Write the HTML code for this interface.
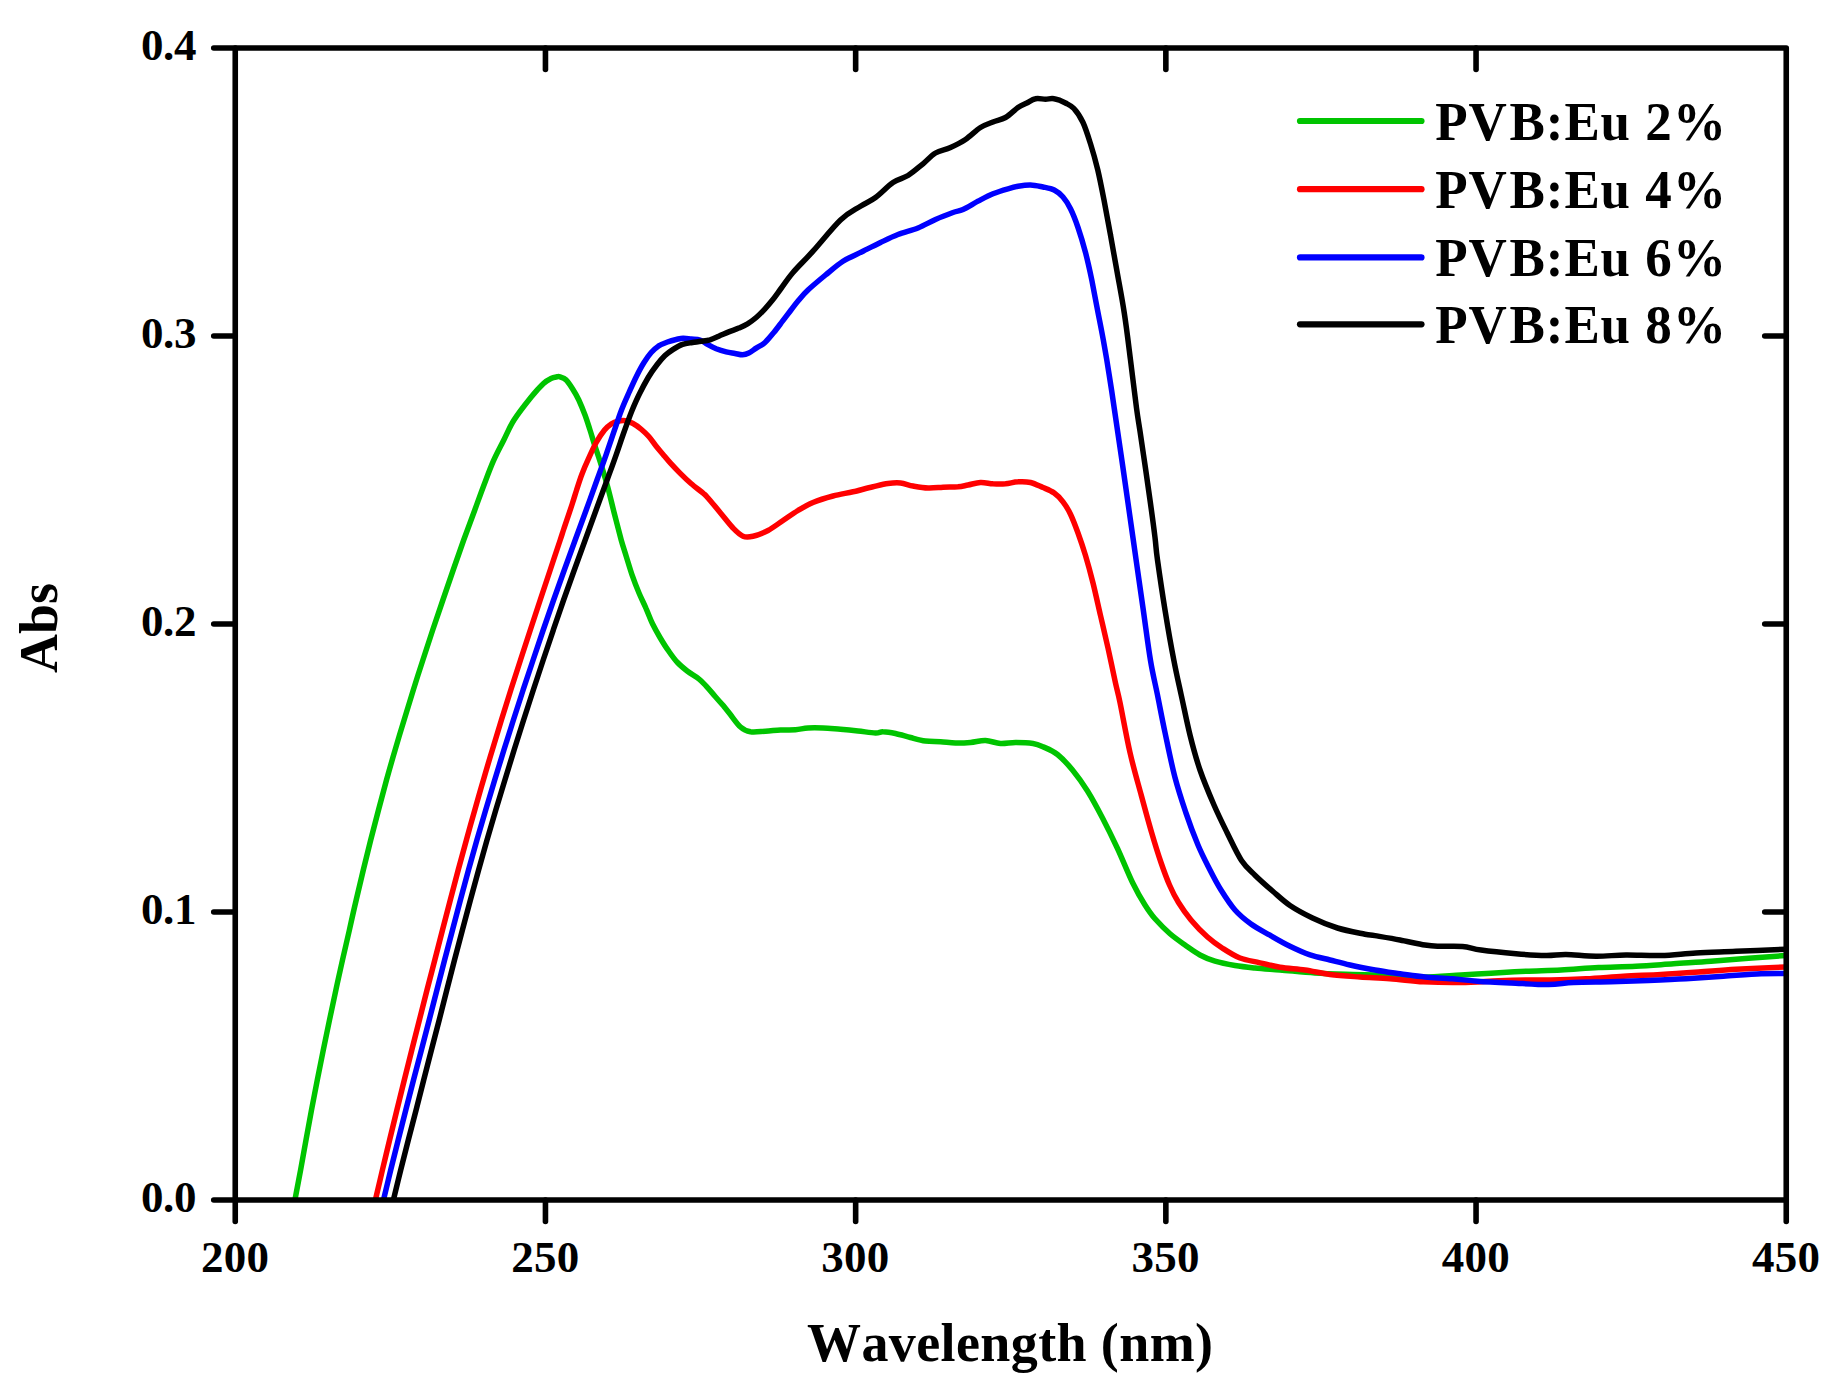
<!DOCTYPE html>
<html lang="en"><head><meta charset="utf-8"><title>Abs vs Wavelength</title>
<style>
html,body{margin:0;padding:0;background:#fff;}
body{width:1848px;height:1392px;overflow:hidden;}
svg{display:block;}
text{font-family:"Liberation Serif","Times New Roman",serif;font-weight:bold;fill:#000;font-kerning:none;}
</style></head><body>
<svg width="1848" height="1392" viewBox="0 0 1848 1392">
<rect width="1848" height="1392" fill="#fff"/>
<defs><clipPath id="plot"><rect x="235.25" y="48.00" width="1551.00" height="1152.00"/></clipPath></defs>

<g clip-path="url(#plot)" fill="none" stroke-width="5.5" stroke-linejoin="round" stroke-linecap="butt">
<path d="M294.9 1200.0C295.9 1195.0 298.7 1180.0 300.6 1170.0C302.4 1160.0 304.2 1150.0 306.0 1140.0C307.9 1130.0 309.6 1120.0 311.5 1110.0C313.4 1100.0 315.4 1090.0 317.3 1080.0C319.3 1070.0 321.3 1060.0 323.3 1050.0C325.4 1040.0 327.4 1030.0 329.5 1020.0C331.6 1010.0 333.7 1000.0 335.9 990.0C338.0 980.0 340.3 970.0 342.5 960.0C344.8 950.0 347.1 940.0 349.4 930.0C351.6 920.0 353.8 910.0 356.2 900.0C358.5 890.0 360.9 880.0 363.3 870.0C365.7 860.0 368.2 850.0 370.7 840.0C373.3 830.0 375.9 820.0 378.5 810.0C381.1 800.0 383.8 790.0 386.5 780.0C389.3 770.0 392.1 760.0 395.1 750.0C398.0 740.0 401.0 730.0 404.1 720.0C407.1 710.0 410.2 700.0 413.3 690.0C416.4 680.0 419.6 670.0 422.9 660.0C426.1 650.0 429.4 640.0 432.7 630.0C436.1 620.0 439.5 610.0 442.9 600.0C446.3 590.0 449.7 580.0 453.2 570.0C456.6 560.0 460.1 550.0 463.7 540.0C467.4 530.0 471.5 519.0 474.8 510.0C478.1 501.0 480.4 494.4 483.5 486.2C486.6 478.1 489.9 469.0 493.3 461.2C496.7 453.5 500.4 446.9 503.8 440.0C507.3 433.1 509.5 427.1 514.0 420.0C518.5 412.9 526.1 403.3 531.0 397.2C535.9 391.2 540.2 386.6 543.5 383.5C546.8 380.4 548.7 379.6 551.0 378.5C553.3 377.4 555.8 377.1 557.2 376.8C558.8 376.5 558.5 376.4 560.0 376.9C561.5 377.4 564.2 378.0 566.2 380.0C568.3 382.0 570.4 385.4 572.5 388.8C574.6 392.1 576.7 395.6 578.8 400.0C580.8 404.4 583.1 410.0 585.0 415.0C586.9 420.0 588.3 424.8 590.0 430.0C591.7 435.2 593.3 441.0 595.0 446.2C596.7 451.5 597.9 454.6 600.0 461.2C602.1 467.9 605.1 477.5 607.5 486.2C609.9 495.0 612.1 504.8 614.4 513.8C616.7 522.7 619.3 532.9 621.2 540.0C623.2 547.1 624.4 550.2 626.2 556.2C628.1 562.3 630.4 570.2 632.5 576.2C634.6 582.3 636.5 587.1 638.8 592.5C641.0 597.9 644.0 603.5 646.2 608.8C648.5 614.0 650.2 619.0 652.5 623.8C654.8 628.5 657.3 632.9 660.0 637.5C662.7 642.1 665.8 647.1 668.8 651.2C671.7 655.4 674.4 659.2 677.5 662.5C680.6 665.8 684.0 668.5 687.5 671.2C691.0 674.0 695.6 676.2 698.8 678.8C701.9 681.2 703.5 683.3 706.2 686.2C709.0 689.2 712.1 692.9 715.0 696.2C717.9 699.6 721.2 703.3 723.8 706.2C726.2 709.2 727.2 710.5 730.0 714.0C732.8 717.5 737.1 724.0 740.5 727.0C743.9 730.0 746.3 731.0 750.5 731.8C754.7 732.5 760.5 731.5 765.5 731.2C770.5 731.0 775.5 730.2 780.5 730.0C785.5 729.8 790.9 730.1 795.5 729.8C800.1 729.4 803.4 728.3 808.0 728.0C812.6 727.7 817.6 727.8 823.0 728.0C828.4 728.2 834.7 728.8 840.5 729.2C846.3 729.8 852.2 730.4 858.0 731.0C863.8 731.6 871.3 732.9 875.5 733.0C879.7 733.1 879.7 731.7 883.0 731.8C886.3 731.8 890.9 732.5 895.5 733.5C900.1 734.5 905.5 736.2 910.5 737.5C915.5 738.8 920.5 740.3 925.5 741.0C930.5 741.7 935.5 741.4 940.5 741.8C945.5 742.1 950.5 742.9 955.5 743.0C960.5 743.1 965.5 742.9 970.5 742.5C975.5 742.1 980.5 740.3 985.5 740.5C990.5 740.7 995.5 743.2 1000.5 743.5C1005.5 743.8 1010.1 742.5 1015.5 742.5C1020.9 742.5 1028.4 742.8 1033.0 743.5C1037.6 744.2 1038.9 744.9 1043.0 746.8C1047.1 748.6 1052.6 750.6 1057.5 754.5C1062.4 758.4 1067.5 763.9 1072.5 770.0C1077.5 776.1 1082.5 783.0 1087.5 791.0C1092.5 799.0 1097.5 808.4 1102.5 818.0C1107.5 827.6 1112.5 837.8 1117.5 848.5C1122.5 859.2 1127.9 873.1 1132.5 882.5C1137.1 891.9 1141.2 899.0 1145.0 905.0C1148.8 911.0 1150.8 914.0 1155.0 918.8C1159.2 923.5 1165.0 929.4 1170.0 933.8C1175.0 938.1 1180.0 941.5 1185.0 945.0C1190.0 948.5 1195.0 952.3 1200.0 955.0C1205.0 957.7 1209.2 959.5 1215.0 961.2C1220.8 963.0 1228.3 964.4 1235.0 965.5C1241.7 966.6 1247.5 967.2 1255.0 968.0C1262.5 968.8 1270.0 969.2 1280.0 970.0C1290.0 970.8 1302.9 972.2 1315.0 973.0C1327.1 973.8 1340.0 974.1 1352.5 974.5C1365.0 974.9 1378.2 975.1 1390.0 975.5C1401.8 975.9 1411.7 977.1 1423.5 977.0C1435.3 976.9 1449.8 975.6 1461.0 975.0C1472.2 974.4 1480.2 973.9 1491.0 973.2C1501.8 972.6 1514.3 971.8 1526.0 971.2C1537.7 970.7 1548.9 970.6 1561.0 970.0C1573.1 969.4 1586.0 968.1 1598.5 967.5C1611.0 966.9 1623.5 966.9 1636.0 966.2C1648.5 965.6 1661.0 964.6 1673.5 963.8C1686.0 962.9 1698.5 962.2 1711.0 961.2C1723.5 960.3 1736.0 959.2 1748.5 958.2C1761.0 957.3 1779.8 956.0 1786.0 955.5" stroke="#00c400"/>
<path d="M375.4 1200.0C376.6 1195.0 380.1 1180.0 382.4 1170.0C384.8 1160.0 387.2 1150.0 389.6 1140.0C392.0 1130.0 394.4 1120.0 396.9 1110.0C399.3 1100.0 401.8 1090.0 404.3 1080.0C406.8 1070.0 409.3 1060.0 411.8 1050.0C414.4 1040.0 416.9 1030.0 419.4 1020.0C422.0 1010.0 424.5 1000.0 427.0 990.0C429.6 980.0 432.2 970.0 434.8 960.0C437.3 950.0 440.0 940.0 442.5 930.0C445.1 920.0 447.7 910.0 450.3 900.0C452.9 890.0 455.6 880.0 458.2 870.0C460.9 860.0 463.6 850.0 466.4 840.0C469.1 830.0 471.9 820.0 474.8 810.0C477.6 800.0 480.4 790.0 483.4 780.0C486.3 770.0 489.2 760.0 492.3 750.0C495.3 740.0 498.3 730.0 501.4 720.0C504.5 710.0 507.7 700.0 510.8 690.0C514.0 680.0 517.2 670.0 520.5 660.0C523.7 650.0 527.0 640.0 530.3 630.0C533.6 620.0 536.9 610.0 540.2 600.0C543.5 590.0 546.9 580.0 550.2 570.0C553.5 560.0 557.9 546.8 560.2 540.0C562.5 533.2 561.8 535.0 563.8 529.0C565.8 523.0 570.1 510.5 572.2 504.0C574.3 497.5 575.0 495.0 576.6 490.0C578.2 485.0 580.0 479.2 582.0 474.0C583.9 468.8 586.0 464.0 588.4 458.8C590.8 453.5 593.6 447.3 596.2 442.5C598.9 437.7 602.0 433.1 604.5 430.0C607.0 426.9 609.0 425.5 611.2 424.0C613.5 422.5 615.6 421.7 618.0 421.2C620.4 420.7 623.0 420.4 625.5 420.8C628.0 421.2 630.3 422.1 633.0 423.5C635.7 424.9 638.9 427.3 641.5 429.5C644.1 431.7 646.4 433.8 648.8 436.5C651.2 439.2 653.6 443.0 656.0 446.0C658.4 449.0 660.9 451.8 663.3 454.7C665.7 457.6 667.7 460.1 670.5 463.2C673.3 466.3 676.6 469.7 680.0 473.1C683.4 476.5 687.1 480.1 691.0 483.5C694.9 486.9 700.7 491.1 703.5 493.5C706.3 495.9 705.2 494.8 708.0 498.0C710.8 501.2 716.3 508.0 720.5 513.0C724.7 518.0 729.2 524.1 733.0 528.0C736.8 531.9 739.7 534.9 743.0 536.2C746.3 537.6 748.8 537.2 753.0 536.2C757.2 535.3 763.0 533.1 768.0 530.5C773.0 527.9 778.0 523.8 783.0 520.5C788.0 517.2 793.0 513.5 798.0 510.5C803.0 507.5 807.2 504.9 813.0 502.5C818.8 500.1 826.3 497.8 833.0 496.0C839.7 494.2 846.3 493.3 853.0 491.8C859.7 490.2 867.2 488.1 873.0 486.8C878.8 485.4 883.4 484.1 888.0 483.5C892.6 482.9 896.3 482.6 900.5 483.0C904.7 483.4 908.4 485.2 913.0 486.0C917.6 486.8 923.0 487.8 928.0 488.0C933.0 488.2 938.0 487.5 943.0 487.2C948.0 487.0 953.8 487.1 958.0 486.8C962.2 486.4 964.2 485.7 968.0 485.0C971.8 484.3 976.3 482.7 980.5 482.5C984.7 482.3 988.8 483.5 993.0 483.8C997.2 484.0 1001.3 484.1 1005.5 483.8C1009.7 483.4 1013.8 482.0 1018.0 481.8C1022.2 481.5 1026.3 481.5 1030.5 482.5C1034.7 483.5 1039.0 485.8 1043.0 487.5C1047.0 489.2 1050.9 490.6 1054.2 493.0C1057.6 495.4 1060.3 498.2 1063.0 501.8C1065.7 505.3 1068.0 509.0 1070.5 514.2C1073.0 519.5 1075.5 526.1 1078.0 533.0C1080.5 539.9 1083.0 547.2 1085.5 555.5C1088.0 563.8 1090.5 573.0 1093.0 583.0C1095.5 593.0 1098.0 604.7 1100.5 615.5C1103.0 626.3 1105.5 636.8 1108.0 648.0C1110.5 659.2 1113.5 673.9 1115.5 683.0C1117.5 692.1 1117.6 690.9 1120.0 702.5C1122.4 714.1 1126.5 737.1 1130.0 752.5C1133.5 767.9 1137.6 781.7 1141.2 795.0C1144.8 808.3 1148.3 821.2 1151.6 832.5C1154.9 843.8 1158.0 853.8 1161.0 862.5C1164.0 871.2 1166.6 878.3 1169.5 885.0C1172.4 891.7 1174.9 896.7 1178.5 902.5C1182.1 908.3 1186.2 914.2 1191.0 920.0C1195.8 925.8 1202.2 932.3 1207.5 937.0C1212.8 941.7 1217.1 944.7 1222.5 948.2C1227.9 951.7 1233.8 955.6 1240.0 958.0C1246.2 960.4 1253.3 961.2 1260.0 962.8C1266.7 964.3 1272.5 966.0 1280.0 967.2C1287.5 968.5 1296.7 968.8 1305.0 970.0C1313.3 971.2 1320.8 973.3 1330.0 974.5C1339.2 975.7 1350.0 976.3 1360.0 977.0C1370.0 977.7 1379.4 978.0 1390.0 978.8C1400.6 979.5 1411.7 981.1 1423.5 981.8C1435.3 982.4 1448.5 982.7 1461.0 982.5C1473.5 982.3 1487.7 981.2 1498.5 980.8C1509.3 980.3 1517.2 980.1 1526.0 980.0C1534.8 979.9 1541.0 980.2 1551.0 980.0C1561.0 979.8 1573.9 979.4 1586.0 978.8C1598.1 978.1 1611.0 977.0 1623.5 976.2C1636.0 975.5 1648.5 975.2 1661.0 974.5C1673.5 973.8 1686.0 972.9 1698.5 972.0C1711.0 971.1 1721.4 970.1 1736.0 969.2C1750.6 968.4 1777.7 967.4 1786.0 967.0" stroke="#ff0000"/>
<path d="M383.5 1200.0C384.7 1195.0 388.3 1180.0 390.7 1170.0C393.2 1160.0 395.7 1150.0 398.2 1140.0C400.7 1130.0 403.3 1120.0 405.8 1110.0C408.4 1100.0 410.9 1090.0 413.5 1080.0C416.1 1070.0 418.7 1060.0 421.4 1050.0C424.0 1040.0 426.6 1030.0 429.2 1020.0C431.8 1010.0 434.3 1000.0 436.9 990.0C439.4 980.0 442.0 970.0 444.6 960.0C447.2 950.0 449.8 940.0 452.5 930.0C455.1 920.0 457.7 910.0 460.4 900.0C463.1 890.0 465.8 880.0 468.5 870.0C471.3 860.0 474.1 850.0 476.9 840.0C479.8 830.0 482.7 820.0 485.7 810.0C488.7 800.0 491.7 790.0 494.7 780.0C497.8 770.0 500.8 760.0 503.9 750.0C507.0 740.0 510.2 730.0 513.4 720.0C516.6 710.0 519.8 700.0 523.1 690.0C526.4 680.0 529.7 670.0 533.1 660.0C536.4 650.0 539.8 640.0 543.2 630.0C546.6 620.0 550.1 610.0 553.6 600.0C557.1 590.0 560.7 580.0 564.3 570.0C567.9 560.0 571.6 550.0 575.2 540.0C578.9 530.0 582.5 520.0 586.2 510.0C589.8 500.0 593.7 489.4 597.0 480.0C600.4 470.6 603.6 461.9 606.4 453.8C609.3 445.6 611.6 438.5 614.1 431.2C616.6 424.0 619.0 416.5 621.5 410.0C624.0 403.5 626.5 398.1 629.0 392.5C631.5 386.9 634.0 381.2 636.5 376.2C639.0 371.2 641.5 366.5 644.0 362.5C646.5 358.5 648.8 355.2 651.2 352.5C653.6 349.8 655.6 348.0 658.3 346.2C661.0 344.5 664.5 343.1 667.5 342.0C670.5 340.9 673.6 340.1 676.2 339.5C678.9 338.9 680.6 338.3 683.1 338.2C685.6 338.1 688.4 338.7 691.2 339.0C694.1 339.3 697.3 339.1 700.0 340.0C702.7 340.9 704.8 342.9 707.5 344.4C710.2 345.9 713.1 347.5 716.2 348.8C719.4 350.0 723.1 351.1 726.2 351.9C729.4 352.7 732.3 353.0 735.0 353.5C737.7 354.0 740.2 354.8 742.5 354.8C744.8 354.7 746.5 354.2 748.8 353.1C751.0 352.0 753.5 349.9 756.2 348.1C759.0 346.3 762.1 345.1 765.0 342.5C767.9 339.9 770.8 336.0 773.8 332.5C776.7 329.0 779.6 325.0 782.5 321.2C785.4 317.5 788.4 313.4 791.0 310.0C793.6 306.6 795.2 304.3 798.0 301.0C800.8 297.7 803.4 294.3 808.0 290.0C812.6 285.7 819.7 279.8 825.5 275.0C831.3 270.2 836.8 265.2 843.0 261.2C849.2 257.3 856.8 254.4 863.0 251.2C869.2 248.1 874.7 245.3 880.5 242.5C886.3 239.7 891.8 236.9 898.0 234.5C904.2 232.1 911.8 230.5 918.0 228.0C924.2 225.5 929.7 222.1 935.5 219.5C941.3 216.9 948.4 214.2 953.0 212.5C957.6 210.8 958.8 211.4 963.0 209.5C967.2 207.6 973.0 203.9 978.0 201.2C983.0 198.6 988.0 195.8 993.0 193.8C998.0 191.7 1003.8 190.0 1008.0 188.8C1012.2 187.5 1014.2 186.9 1018.0 186.2C1021.8 185.6 1026.3 184.9 1030.5 185.0C1034.7 185.1 1039.0 186.2 1043.0 187.0C1047.0 187.8 1050.9 188.3 1054.2 190.0C1057.6 191.7 1060.3 193.9 1063.0 197.0C1065.7 200.1 1068.0 203.7 1070.5 208.8C1073.0 213.8 1075.5 220.2 1078.0 227.5C1080.5 234.8 1083.2 243.8 1085.5 252.5C1087.8 261.2 1089.7 270.0 1091.8 280.0C1093.8 290.0 1095.9 301.7 1098.0 312.5C1100.1 323.3 1102.4 334.6 1104.2 345.0C1106.1 355.4 1107.6 364.5 1109.2 375.0C1110.9 385.5 1112.0 392.5 1114.2 408.0C1116.5 423.5 1119.9 446.3 1123.0 468.0C1126.1 489.7 1129.7 514.7 1133.0 538.0C1136.3 561.3 1140.1 587.6 1143.0 608.0C1145.9 628.4 1148.1 646.0 1150.5 660.5C1152.9 675.0 1155.1 683.0 1157.5 695.0C1159.9 707.0 1162.1 718.8 1165.0 732.5C1167.9 746.2 1171.5 764.2 1175.0 777.5C1178.5 790.8 1182.0 801.2 1185.8 812.5C1189.6 823.8 1194.0 835.4 1198.0 845.0C1202.0 854.6 1206.2 862.5 1210.0 870.0C1213.8 877.5 1216.8 883.3 1221.0 890.0C1225.2 896.7 1230.0 904.3 1235.0 910.0C1240.0 915.7 1245.2 919.8 1251.0 924.0C1256.8 928.2 1263.5 931.5 1270.0 935.2C1276.5 939.0 1283.3 943.0 1290.0 946.2C1296.7 949.5 1303.3 952.5 1310.0 954.8C1316.7 957.0 1323.3 958.3 1330.0 960.0C1336.7 961.7 1342.5 963.3 1350.0 965.0C1357.5 966.7 1366.7 968.5 1375.0 970.0C1383.3 971.5 1391.7 972.6 1400.0 973.8C1408.3 974.9 1416.2 976.2 1425.0 977.0C1433.8 977.8 1443.8 978.0 1452.5 978.8C1461.2 979.5 1467.8 980.5 1477.5 981.2C1487.2 982.0 1499.2 982.5 1511.0 983.0C1522.8 983.5 1538.1 984.6 1548.5 984.5C1558.9 984.4 1563.1 983.0 1573.5 982.5C1583.9 982.0 1598.5 982.1 1611.0 981.8C1623.5 981.4 1636.0 981.0 1648.5 980.5C1661.0 980.0 1673.5 979.5 1686.0 978.8C1698.5 978.0 1711.0 977.1 1723.5 976.2C1736.0 975.4 1750.6 974.2 1761.0 973.8C1771.4 973.3 1781.8 973.5 1786.0 973.5" stroke="#0000ff"/>
<path d="M393.4 1200.0C394.6 1195.0 398.2 1180.0 400.7 1170.0C403.2 1160.0 405.7 1150.0 408.3 1140.0C410.9 1130.0 413.5 1120.0 416.1 1110.0C418.6 1100.0 421.1 1090.0 423.7 1080.0C426.3 1070.0 428.8 1060.0 431.4 1050.0C434.0 1040.0 436.6 1030.0 439.2 1020.0C441.8 1010.0 444.3 1000.0 446.8 990.0C449.4 980.0 451.9 970.0 454.5 960.0C457.1 950.0 459.7 940.0 462.4 930.0C465.0 920.0 467.7 910.0 470.4 900.0C473.1 890.0 475.8 880.0 478.6 870.0C481.4 860.0 484.2 850.0 487.0 840.0C489.9 830.0 492.9 820.0 495.8 810.0C498.8 800.0 501.9 790.0 504.9 780.0C508.0 770.0 511.0 760.0 514.1 750.0C517.2 740.0 520.4 730.0 523.6 720.0C526.8 710.0 530.0 700.0 533.3 690.0C536.6 680.0 539.9 670.0 543.2 660.0C546.5 650.0 549.9 640.0 553.3 630.0C556.7 620.0 560.1 610.0 563.6 600.0C567.1 590.0 570.7 580.0 574.3 570.0C577.9 560.0 581.5 550.0 585.2 540.0C588.8 530.0 592.4 520.0 596.1 510.0C599.7 500.0 603.7 489.4 607.1 480.0C610.5 470.6 613.7 461.9 616.5 453.8C619.4 445.6 621.7 438.3 624.3 431.2C626.8 424.2 629.2 417.5 631.7 411.2C634.3 405.0 636.7 399.4 639.5 393.8C642.3 388.1 645.4 382.3 648.2 377.5C651.1 372.7 654.0 368.6 656.8 365.0C659.6 361.4 662.3 358.2 665.0 355.6C667.7 353.0 670.3 351.3 673.2 349.4C676.1 347.5 679.3 345.5 682.5 344.4C685.7 343.2 689.4 343.0 692.5 342.5C695.6 342.0 698.3 341.7 701.2 341.2C704.2 340.8 707.1 340.6 710.0 339.8C712.9 338.9 715.6 337.6 718.8 336.2C721.9 334.9 725.4 333.3 728.8 331.9C732.1 330.5 735.6 329.5 738.8 328.1C741.9 326.7 744.6 325.5 747.5 323.8C750.4 322.0 753.3 320.0 756.2 317.5C759.2 315.0 762.3 311.7 765.0 308.8C767.7 305.8 769.8 303.4 772.5 300.0C775.2 296.6 777.6 293.1 781.0 288.5C784.4 283.9 787.7 278.7 793.0 272.5C798.3 266.3 805.1 260.0 813.0 251.2C820.9 242.5 832.6 227.5 840.5 220.0C848.4 212.5 854.7 210.0 860.5 206.2C866.3 202.5 870.1 201.5 875.5 197.5C880.9 193.5 887.6 186.2 893.0 182.5C898.4 178.8 903.0 178.6 908.0 175.5C913.0 172.4 918.4 167.5 923.0 163.8C927.6 160.0 930.9 155.7 935.5 153.0C940.1 150.3 945.5 149.8 950.5 147.5C955.5 145.2 960.5 142.8 965.5 139.5C970.5 136.2 975.9 130.4 980.5 127.5C985.1 124.6 988.8 123.7 993.0 122.0C997.2 120.3 1001.3 119.9 1005.5 117.5C1009.7 115.1 1014.5 109.9 1018.0 107.5C1021.5 105.1 1023.8 104.5 1026.8 103.0C1029.7 101.5 1032.4 99.4 1035.5 98.8C1038.6 98.1 1042.4 99.2 1045.5 99.2C1048.6 99.2 1050.9 98.1 1054.2 98.8C1057.6 99.4 1062.2 101.3 1065.5 103.0C1068.8 104.7 1071.3 105.5 1074.2 108.8C1077.2 112.0 1080.3 116.7 1083.0 122.5C1085.7 128.3 1088.0 135.8 1090.5 143.8C1093.0 151.7 1095.5 160.6 1097.8 170.0C1100.0 179.4 1101.9 189.2 1104.0 200.0C1106.1 210.8 1108.3 222.9 1110.5 235.0C1112.7 247.1 1114.9 259.6 1117.2 272.5C1119.5 285.4 1122.0 297.9 1124.2 312.5C1126.5 327.1 1128.5 344.1 1130.5 360.0C1132.5 375.9 1134.9 396.1 1136.5 408.0C1138.1 419.9 1138.6 421.8 1140.0 431.2C1141.4 440.8 1143.3 453.5 1145.0 465.0C1146.7 476.5 1148.3 487.9 1150.0 500.0C1151.7 512.1 1153.8 527.5 1155.0 537.5C1156.2 547.5 1155.8 547.9 1157.5 560.0C1159.2 572.1 1162.3 593.3 1165.0 610.0C1167.7 626.7 1171.0 645.8 1173.8 660.0C1176.5 674.2 1178.5 682.5 1181.2 695.0C1184.0 707.5 1186.9 722.5 1190.0 735.0C1193.1 747.5 1196.0 758.3 1200.0 770.0C1204.0 781.7 1209.5 794.6 1214.0 805.0C1218.5 815.4 1222.4 823.2 1227.0 832.5C1231.6 841.8 1236.8 853.4 1241.5 860.5C1246.2 867.6 1249.8 870.2 1255.0 875.2C1260.2 880.3 1266.7 886.0 1272.5 891.0C1278.3 896.0 1283.3 901.0 1290.0 905.5C1296.7 910.0 1304.6 914.2 1312.5 918.0C1320.4 921.8 1328.8 925.3 1337.5 928.0C1346.2 930.7 1358.8 932.9 1365.0 934.2C1371.2 935.5 1369.2 934.6 1375.0 935.6C1380.8 936.6 1391.7 938.4 1400.0 940.0C1408.3 941.6 1418.8 944.0 1425.0 945.0C1431.2 946.0 1431.2 946.0 1437.5 946.2C1443.8 946.5 1455.2 945.8 1462.5 946.4C1469.8 947.0 1472.1 948.8 1481.0 950.0C1489.9 951.2 1505.2 952.8 1516.0 953.8C1526.8 954.7 1537.7 955.4 1546.0 955.5C1554.3 955.6 1557.7 954.4 1566.0 954.5C1574.3 954.6 1586.0 956.2 1596.0 956.2C1606.0 956.3 1615.2 955.1 1626.0 955.0C1636.8 954.9 1649.3 955.8 1661.0 955.5C1672.7 955.2 1683.5 953.7 1696.0 953.0C1708.5 952.3 1721.0 951.9 1736.0 951.2C1751.0 950.6 1777.7 949.6 1786.0 949.2" stroke="#000000"/>
</g>
<g stroke="#000" stroke-width="5.6" fill="none" stroke-linecap="round">
<rect x="235.25" y="48.00" width="1551.00" height="1152.00" stroke-linejoin="round"/>
<line x1="235.25" y1="1200.00" x2="235.25" y2="1221.50"/>
<line x1="545.45" y1="1200.00" x2="545.45" y2="1221.50"/>
<line x1="545.45" y1="48.00" x2="545.45" y2="69.50"/>
<line x1="855.65" y1="1200.00" x2="855.65" y2="1221.50"/>
<line x1="855.65" y1="48.00" x2="855.65" y2="69.50"/>
<line x1="1165.85" y1="1200.00" x2="1165.85" y2="1221.50"/>
<line x1="1165.85" y1="48.00" x2="1165.85" y2="69.50"/>
<line x1="1476.05" y1="1200.00" x2="1476.05" y2="1221.50"/>
<line x1="1476.05" y1="48.00" x2="1476.05" y2="69.50"/>
<line x1="1786.25" y1="1200.00" x2="1786.25" y2="1221.50"/>
<line x1="235.25" y1="1200.00" x2="213.75" y2="1200.00"/>
<line x1="235.25" y1="912.00" x2="213.75" y2="912.00"/>
<line x1="1786.25" y1="912.00" x2="1764.75" y2="912.00"/>
<line x1="235.25" y1="624.00" x2="213.75" y2="624.00"/>
<line x1="1786.25" y1="624.00" x2="1764.75" y2="624.00"/>
<line x1="235.25" y1="336.00" x2="213.75" y2="336.00"/>
<line x1="1786.25" y1="336.00" x2="1764.75" y2="336.00"/>
<line x1="235.25" y1="48.00" x2="213.75" y2="48.00"/>
</g>
<g font-size="45">
<text x="234.95" y="1271.8" text-anchor="middle" textLength="68" lengthAdjust="spacing">200</text>
<text x="545.15" y="1271.8" text-anchor="middle" textLength="68" lengthAdjust="spacing">250</text>
<text x="855.35" y="1271.8" text-anchor="middle" textLength="68" lengthAdjust="spacing">300</text>
<text x="1165.55" y="1271.8" text-anchor="middle" textLength="68" lengthAdjust="spacing">350</text>
<text x="1475.75" y="1271.8" text-anchor="middle" textLength="68" lengthAdjust="spacing">400</text>
<text x="1785.95" y="1271.8" text-anchor="middle" textLength="68" lengthAdjust="spacing">450</text>
<text x="196.4" y="1212.00" text-anchor="end" textLength="55.5" lengthAdjust="spacing">0.0</text>
<text x="196.4" y="924.00" text-anchor="end" textLength="55.5" lengthAdjust="spacing">0.1</text>
<text x="196.4" y="636.00" text-anchor="end" textLength="55.5" lengthAdjust="spacing">0.2</text>
<text x="196.4" y="348.00" text-anchor="end" textLength="55.5" lengthAdjust="spacing">0.3</text>
<text x="196.4" y="60.00" text-anchor="end" textLength="55.5" lengthAdjust="spacing">0.4</text>
</g>
<text x="1010" y="1361" font-size="54" text-anchor="middle" textLength="406" lengthAdjust="spacing">Wavelength (nm)</text>
<text transform="translate(57.2,628) rotate(-90)" font-size="54" text-anchor="middle" textLength="90" lengthAdjust="spacing">Abs</text>
<g stroke-width="6.2" stroke-linecap="round" fill="none">
<line x1="1300" y1="121.0" x2="1421.5" y2="121.0" stroke="#00c400"/>
<line x1="1300" y1="189.2" x2="1421.5" y2="189.2" stroke="#ff0000"/>
<line x1="1300" y1="257.4" x2="1421.5" y2="257.4" stroke="#0000ff"/>
<line x1="1300" y1="324.3" x2="1421.5" y2="324.3" stroke="#000000"/>
</g>
<g font-size="53">
<text transform="matrix(1 0 0 1.038 0 -5.320)" y="140.0" x="1435.2 1468.5 1509.5 1545.8 1564.4 1600.6 1631.2 1645.3 1673.0">PVB:Eu 2%</text>
<text transform="matrix(1 0 0 1.038 0 -7.896)" y="207.8" x="1435.2 1468.5 1509.5 1545.8 1564.4 1600.6 1631.2 1645.3 1673.0">PVB:Eu 4%</text>
<text transform="matrix(1 0 0 1.038 0 -10.473)" y="275.6" x="1435.2 1468.5 1509.5 1545.8 1564.4 1600.6 1631.2 1645.3 1673.0">PVB:Eu 6%</text>
<text transform="matrix(1 0 0 1.038 0 -13.049)" y="343.4" x="1435.2 1468.5 1509.5 1545.8 1564.4 1600.6 1631.2 1645.3 1673.0">PVB:Eu 8%</text>
</g>
</svg>
</body></html>
